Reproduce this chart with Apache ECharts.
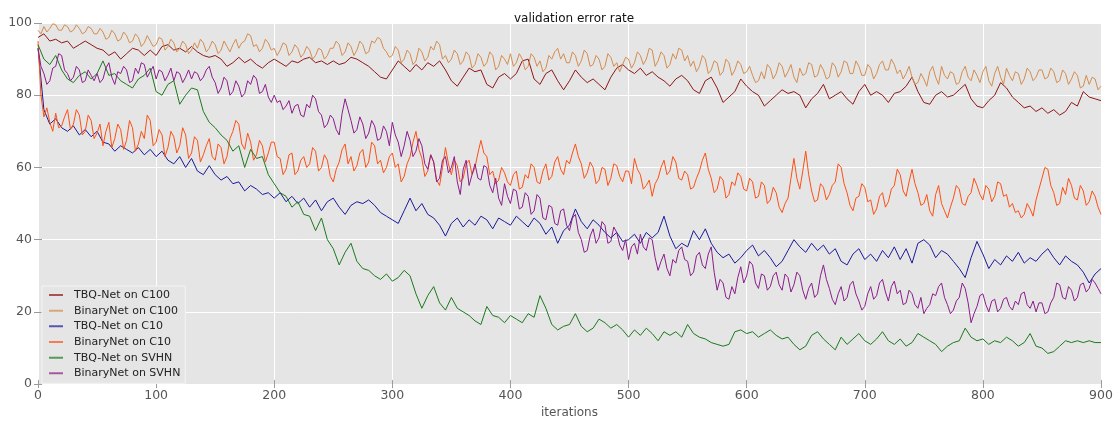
<!DOCTYPE html>
<html><head><meta charset="utf-8">
<script src="https://cdn.jsdelivr.net/npm/echarts@6/dist/echarts.min.js"></script>
<style>html,body{margin:0;padding:0;background:#fff}#c{width:1118px;height:424px}</style>
</head><body><div id="c"></div>
<script>
const seriesNames = ['TBQ-Net on C100','BinaryNet on C100','TBQ-Net on C10','BinaryNet on C10','TBQ-Net on SVHN','BinaryNet on SVHN'];
const seriesColors = ['#8e1616','#d38c4f','#1a1a9a','#ff4f14','#1a7a1a','#8c1c8c'];
const xTicks = [0,100,200,300,400,500,600,700,800,900];
const yTicks = [0,20,40,60,80,100];

// sampled every 5 iterations (0..900)
const tbqC100 = [
96,97,95,95.5,94.5,95,93,94,95,94,
93,92.5,91,92,90,91.5,93,92.5,91,92.5,
91,93.5,94,92.5,93,92,93.5,92,91,90.5,
91,90,88,89,90.5,89,90,88.5,87.5,89,
90,89,88,89.5,89,90,90.5,89,89.5,88.5,
89.5,88.5,89,90.5,90,89,88,86.5,85,84.5,
87,89.5,88,86.5,88.5,87,89,88,89.5,87,
84,82.5,85,87.5,86.5,87,83,82,85,86,
84.5,86,89.5,90,84.5,83,86,87,84,81.5,
84,87,85,83.5,84.5,83,81.5,85,87.5,88.5,
87,86,87.5,85.5,86.5,85,84,82.5,84.5,85.5,
84,81.5,80.5,84,85,82,78,79.5,81,84.5,
82.5,81,80,77,78.5,80,81.5,80.5,81,80,
76.5,79,80.5,83,79,80,81,79,77.5,81,
83,80,81,80,78,80.5,81,82.5,85,81,
78,77.5,80,81,79.5,80,81.5,83,79,77,
76.5,78.5,80,83.5,82,79.5,78,76.5,77,75.5,
76.5,75,76,74.5,75.5,78,77,81,79.5,79,
78.5];

// sampled every 2.5 iterations (0..900)
const binC100 = [
98,97,99,97.5,98.5,99.8,99.5,98,98,99.5,99,97.5,98,99.5,98.5,97,97.5,99,98.5,97,
97,98.5,97.5,95.5,96,98,97,95,95.5,97.5,96.5,94.5,95,97,96,93.5,94.5,96.5,95,93.5,
94,96,95.5,92.5,93.5,95.5,94.5,92,93,95,94,91.5,92.5,94.5,93,95.5,94.5,92,93,95,
94,91.5,92.5,95,93.5,92,94,95.5,93,94.5,95,97,96.5,93.5,94,92,93,95.5,94.5,92.5,
93,91,92.5,94.5,94,91,92,94,93,90.5,91.5,93.5,92.5,90,91,93,92.5,90,91,93,
93,95,94,91,92,94.5,93.5,91,92.5,95,94,91.5,92,95,94.5,96,95.5,93,92,90.5,
91,93.5,92.5,89,90,92.5,91.5,88.5,89.5,93,92,89.5,90.5,93.5,92.5,95,94,90,91,89,
90,92.5,91.5,88.5,89.5,92,91,87.5,88.5,91.5,90.5,88,89,92,91,87,88,91,90,88.5,
91.5,88,89,91.5,90,87,88,91.5,90.5,88,89.5,86.5,87.5,91,90,92,93,90,91.5,89,
89,92,91,88,89.5,92.5,91.5,88,88.5,91,90,87,88,91.5,90.5,88,89,86.5,88.5,90.5,
90,87.5,89,92,91,88.5,90,93,92.5,88,89.5,92,91,87.5,88.5,91.5,90,93,92.5,89.5,
91,88,89.5,86.5,88,91,90,86,87,89.5,89,85.5,86.5,90,89,85.5,87,89.5,88.5,86,
86.5,88,85.5,83.5,84,86.5,84.5,88.5,87.5,84.5,86,89,88,85,86.5,88.5,85,83.5,87.5,85.5,
86,89,88.5,85,85.5,88.5,87,84.5,85,89,88,85,86.5,89.5,89,86,86,89.5,88,85.5,
85.5,88.5,87.5,84.5,86,88.5,89.5,87,87,90,88.5,86,87,84.5,86,88,85,83,83.5,86,
84.5,82.5,86.5,88,85,83,88,85.5,84.5,86.5,86,83,83.5,86.5,88,85,84,87,85.5,83.5,
86.5,88,84,82.5,86,88,85,83,87.5,85.5,84,86.5,86,83,84.5,87.5,86.5,84,85,87,
87,84.5,85,87.5,86.5,83.5,84,87,86,83,84.5,86.5,85.5,82,82.5,85.5,83,85,84.5,81.5,
82.5];

// sampled every 5 iterations (0..900)
const tbqC10 = [
93,76,72,73.5,71,70,71.5,69,70.5,68.5,
70,67,66.5,64.5,66,65,64,65.5,63.5,65,
63,64.5,62,61,63,60,62.5,59,58,60.5,
58,56.5,57.5,55.5,56,53.5,55,54,52.5,53,
51.5,53,50.5,52,50,51.5,49,51,48,50.5,
51.5,49,47,49.5,50.5,50,51,49.5,47.5,46.5,
45.5,44.5,48,51.5,48,50,47,46,44,41,
44.5,46,43.5,45.5,44,46.5,45.5,43,46,45,
44,46.5,45,43.5,46,44.5,41.5,43.5,39,42.5,
44,48.5,45,43,45.5,44,42,40.5,42,39.5,
40,41.5,39,42,40.5,42,46.5,41,37.5,39,
38,42.5,40,43,39,36.5,35,36,33.5,35,
37,38.5,35.5,37,35,32.5,34,37,40,38,
36.5,39,37,38.5,36,37.5,34,33,36,37.5,
34.5,36,34,37,35,38,34.5,37.5,33.5,39,
40,38.5,35,37,36,34,32,29.5,35,39.5,
36,32,34.5,33,35.5,34,36.5,33.5,35,34,
36,37.5,35,33,35.5,34,33,31,28,30.5,
32];

// sampled every 2.5 iterations (0..900)
const binC10 = [
95,80,74,76.5,72.5,70,75,71,71.5,74,76,70.5,72,76,74.5,69,70,74.5,73,68,
69.5,72,66,70,72.5,65.5,68,72,70.5,65,67.5,73,71,64.5,66.5,70,68,74.5,73,66,
67,70.5,69,63,65.5,70,68.5,64,66,71,69,62.5,64,68.5,67.5,61.5,63.5,66,68,63,
62,66.5,65.5,61,63,68,70,73,72,66.5,65,69.5,67,62,63.5,67.5,66,61.5,64,67,
67,63,62.5,58,59.5,63.5,64,58,59,62,63,60,61,65.5,64.5,59,60,63.5,62,57.5,
56,59.5,61.5,65,66.5,61,63,59,60.5,64,65,60,61.5,67,66,61,62,58.5,60,63,
64,60,61,56,57.5,61,63,67,70,65,62.5,57.5,59,63.5,61.5,56.5,55,60,65.5,61,
58,62,60.5,56,57,61,62,58,60,64,67.5,64,63,58,59,55.5,56.5,60,58.5,56,
55,58,59,54,54.5,58,57,61,60,56,55.5,59,61,56.5,57.5,61.5,63,59.5,58,62,
61,64,66.5,63,61,57,58.5,61.5,60,55.5,56.5,60,59.5,55,57,61,60.5,57.5,56,59,
59,55.5,62.5,59.5,58,54,55,56.5,52,55.5,57,60,62,58,59,63,61.5,57,56.5,59,
58,54,54.5,57,59,62,64,59.5,57,53,54,57.5,56.5,51.5,52.5,56,55,58.5,57.5,54,
53.5,57,56,51.5,52,56,55,50,51,54.5,53,49,47.5,50,51.5,57,62.5,57,54,59,
64.5,58,53.5,50.5,51,55.5,54.5,51,52.5,55,56,61,60,55.5,53,49.5,48,51.5,52,55.5,
54.5,50.5,51,47,48.5,52,53,49,50.5,54,55,59.5,58,53.5,52,56,59.5,55.5,53,49.5,
50,52.5,48,46.5,52.5,55,50,48,46,49,51.5,55,54,50,49.5,52,53,57,55,52.5,
51,55,54,50.5,52,56,55.5,52,52.5,49,50,47.5,48,46,47,50,48.5,46.5,51,54,
57,60,59.5,55,53,49.5,50,54.5,52.5,57,55,51.5,51,55,53.5,49.5,50.5,53.5,52,49,
47];

// sampled every 5 iterations (0..900)
const tbqSVHN = [
94,90,88.5,91,87,84.5,83.5,85.5,86.5,84.5,
86,89.5,85.5,86,84,83,82,84.5,85.5,87.5,
81,80,83,84,77.5,80,82,81.5,75.5,72.5,
71,69,67.5,64.5,66,60,65,62.5,63,58,
55.5,53,52,49,50.5,47,46.5,42.5,46,40,
37.5,33,36.5,39,34,32,31.5,30,29,30.5,
28.5,29.5,31.5,30,25,21,24.5,27,22.5,20.5,
24,21,20,19,17.5,16.5,21.5,19,18.5,17,
19,18,17,19.5,18.5,24.5,21,16.5,15,16,
16.5,19.5,16,14.5,15.5,18,17,15.5,16.5,15,
13,15,13.5,15.5,14,12,14.5,13.5,14.5,13,
16.5,14,13,12.5,11.5,11,10.5,11,14.5,15,
14,14.5,13,14,15,13.5,12.5,13,11,9.5,
10.5,13.5,14.5,12.5,11,9.5,13,11,12.5,14,
12,11,12.5,14.5,12,11,12.5,10.5,11.5,14,
13,12,11,9,10.5,11.5,12,15.5,13,12,
12.5,11,12,11.5,13,12,10.5,11.5,14,10.5,
10,8.5,9,10.5,12,11.5,12,11.5,12,11.5,
11.5];

// sampled every 2.5 iterations (0..900)
const binSVHN = [
93,88,86,83,84,87.5,88,91.5,91,87,86,84,85,88,87,83.5,84,87,85.5,84,
86,83.5,84.5,87.5,89,85,83,86.5,86,88,87,83.5,84,87.5,86,89,88.5,85,86.5,88,
84.5,87,86.5,84,85.5,87.5,84,86.5,86,83.5,85,87,84.5,86.5,86,84,85,87,88,85,
83.5,80.5,82,85,84,80,81,84,82.5,79.5,80.5,84,83,85.5,84.5,80.5,81,83,79.5,78,
80,78,78.5,76,77,78.5,75,77,77.5,74.5,74,77.5,76.5,80,79,75.5,74.5,71,72,74.5,
73.5,70.5,69,75,79,76,73,69.5,70.5,74,72,68,69.5,73,71.5,67.5,68,71.5,70,66,
72.5,69,67,63,66,70,67.5,63,64.5,68,66,61,59.5,63.5,61.5,56,57,62,63,58.5,
60,63,56,52.5,59.5,62,55,58,61,57,56.5,60.5,60,55,53,57,51.5,49.5,55.5,52,
50,54,53.5,48.5,49,53,52,47,48,52.5,51.5,46,45.5,49.5,49,44.5,44,48,48.5,44,
42.5,46,47,42,40,36.5,37,41,43,39,40.5,45,44,39,39.5,43.5,42,38.5,37,40,
34.5,38,39,36,41.5,38,37,40.5,40,35,31.5,34,36,32,30,34.5,33.5,37,38,34.5,
34,30,31,35.5,36.5,33,32,36,38,31,26,29,28,24,23.5,27,25,29.5,32.5,28,
30,34,33,28,26.5,30.5,30,26,27,30,31,27.5,26,30.5,29.5,25.5,27.5,31,30,26,
23.5,26.5,28,24,25,30,33,29,26.5,23.5,22,25,27,23,24,27.5,28.5,25,23,20.5,
21.5,25,27,23.5,24.5,28,29,25.5,23,27,28.5,25,26,22,22.5,26,25,22,21,24,
19.5,21,22,25,24.5,27,28,24,22,19.5,20.5,23,24,28,26.5,22.5,17,19.5,21.5,24.5,
25,22,20,23,23.5,20,21,23.5,24,21.5,20.5,23,22,25,25.5,22,21,23,20,22.5,
22.5,19.5,20,22.5,24,28,27.5,24,23.5,27,26,23,24,27.5,28,25.5,26.5,29,28,26.5,
25];

const allValues = [tbqC100, binC100, tbqC10, binC10, tbqSVHN, binSVHN];
const FONT = 'DejaVu Sans';
const tickColor = '#9a9a9a';
const xMax = xTicks[xTicks.length - 1];
const chart = echarts.init(document.getElementById('c'), null, {renderer: 'canvas'});
const option = {
  animation: false,
  backgroundColor: '#ffffff',
  title: {
    text: 'validation error rate', left: 509, top: 8,
    textStyle: {fontFamily: FONT, fontSize: 12, fontWeight: 'normal', color: '#111'}
  },
  grid: {left: 38, right: 17, top: 23, bottom: 36, show: true, backgroundColor: '#e5e5e5', borderWidth: 0},
  legend: {
    orient: 'vertical', left: 42, top: 286, padding: [2, 5, 3, 7], itemGap: 1.67,
    itemWidth: 20, itemHeight: 2,
    icon: 'path://M0,0h14v2h-14z M19.99,0h0.01v0.01h-0.01z',
    backgroundColor: '#e5e5e5', borderColor: '#f4f4f4', borderWidth: 1, borderRadius: 0,
    itemStyle: {opacity: 0.7},
    textStyle: {fontFamily: FONT, fontSize: 11, color: '#222', lineHeight: 14},
    data: seriesNames
  },
  xAxis: [{
    type: 'value', min: xTicks[0], max: xMax, interval: 100,
    axisLine: {show: false},
    axisTick: {show: true, length: 4, lineStyle: {color: tickColor}},
    axisLabel: {fontFamily: FONT, fontSize: 12.5, color: '#555', margin: 5},
    splitLine: {show: true, lineStyle: {color: '#ffffff', width: 1}},
    name: 'iterations', nameLocation: 'middle', nameGap: 21,
    nameTextStyle: {fontFamily: FONT, fontSize: 12, color: '#555'}
  }, {
    type: 'value', position: 'top', min: xTicks[0], max: xMax, interval: 100,
    axisLine: {show: false}, axisTick: {show: true, length: 4, lineStyle: {color: tickColor}},
    axisLabel: {show: false}, splitLine: {show: false}
  }],
  yAxis: [{
    type: 'value', min: yTicks[0], max: yTicks[yTicks.length - 1], interval: 20,
    axisLine: {show: false},
    axisTick: {show: true, length: 4, lineStyle: {color: tickColor}},
    axisLabel: {fontFamily: FONT, fontSize: 12.5, color: '#555', margin: 6},
    splitLine: {show: true, lineStyle: {color: '#ffffff', width: 1}}
  }, {
    type: 'value', position: 'right', min: yTicks[0], max: yTicks[yTicks.length - 1], interval: 20,
    axisLine: {show: false}, axisTick: {show: true, length: 4, lineStyle: {color: tickColor}},
    axisLabel: {show: false}, splitLine: {show: false}
  }],
  series: allValues.map((vals, i) => {
    const step = xMax / (vals.length - 1);
    return {
      name: seriesNames[i], type: 'line', xAxisIndex: 0, yAxisIndex: 0,
      data: vals.map((v, j) => [j * step, v]),
      symbol: 'none', showSymbol: false, smooth: false,
      lineStyle: {width: 1, color: seriesColors[i]},
      itemStyle: {color: seriesColors[i]},
      z: 2 + i
    };
  })
};
chart.setOption(option);
</script></body></html>
